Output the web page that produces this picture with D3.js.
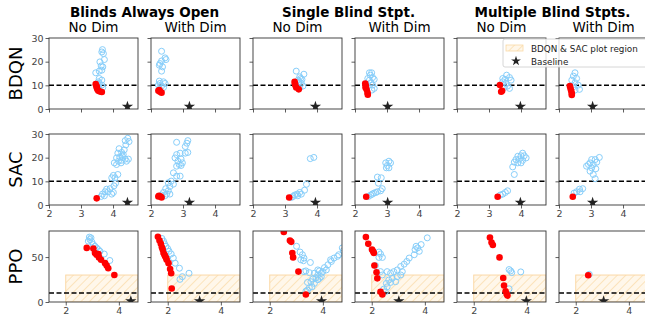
<!DOCTYPE html>
<html>
<head>
<meta charset="utf-8">
<script src="https://cdn.jsdelivr.net/npm/d3@7"></script>
<style>
body { margin: 0; background: #fff; }
svg { font-family: "DejaVu Sans", sans-serif; }
</style>
</head>
<body>
<svg id="chart" width="645" height="322"></svg>
<script>
// column / row labels
const groupTitles = ["Blinds Always Open", "Single Blind Stpt.", "Multiple Blind Stpts."];
const subTitles = ["No Dim", "With Dim", "No Dim", "With Dim", "No Dim", "With Dim"];
const rowLabels = ["BDQN", "SAC", "PPO"];

// baseline per column
const baselineX = [4.45, 3.2, 3.95, 3.02, 3.98, 3.05];
const baselineY = [1, 1, 1, 1, 1, 1];

// BDQN points, one list per column
const bdqnBlue = [
  [[3.67,25.1],[3.65,24.1],[3.70,23.4],[3.73,20.9],[3.59,19.9],[3.63,18.2],[3.68,17.8],[3.65,16.4],[3.57,16.0],[3.46,15.3],[3.57,12.9],[3.65,12.2],[3.54,11.5],[3.57,10.8],[3.49,10.5],[3.65,10.1],[3.55,9.4],[3.68,9.1],[3.57,8.3],[3.50,9.0]],
  [[2.33,24.4],[2.44,21.6],[2.47,20.9],[2.33,20.3],[2.26,18.5],[2.36,17.8],[2.28,19.2],[2.33,16.0],[2.26,11.8],[2.39,11.5],[2.28,10.8],[2.44,10.8],[2.33,9.7],[2.23,10.1],[2.39,9.1],[2.26,8.7]],
  [[3.35,16.0],[3.59,14.7],[3.46,13.6],[3.53,12.5],[3.41,12.2],[3.51,10.8],[3.56,9.7],[3.46,9.1],[3.43,11.5],[3.49,12.9]],
  [[2.45,15.3],[2.52,15.3],[2.48,14.3],[2.55,13.3],[2.60,12.5],[2.45,12.2],[2.50,11.1],[2.55,10.1],[2.60,8.7],[2.53,8.0],[2.40,12.9]],
  [[3.55,14.3],[3.64,13.3],[3.69,12.2],[3.50,12.5],[3.43,11.5],[3.53,10.8],[3.58,9.7],[3.48,9.1],[3.64,8.7],[3.43,12.9]],
  [[2.50,15.3],[2.45,13.9],[2.55,12.9],[2.40,12.2],[2.50,11.1],[2.60,10.1],[2.45,9.4],[2.64,8.3],[2.50,8.0]]
];
const bdqnRed = [
  [[3.46,10.5],[3.49,9.1],[3.51,8.3],[3.54,7.7],[3.59,7.4],[3.65,7.2],[3.49,9.6]],
  [[2.23,7.7],[2.28,7.3],[2.33,6.9],[2.26,8.0]],
  [[3.30,11.5],[3.32,10.1],[3.35,9.1],[3.43,8.3],[3.31,10.8]],
  [[2.32,10.8],[2.34,9.7],[2.36,8.3],[2.39,6.9],[2.40,6.0],[2.33,9.1]],
  [[3.34,10.1],[3.38,7.3],[3.41,7.7]],
  [[2.34,9.7],[2.36,8.7],[2.38,7.7],[2.40,6.6],[2.40,5.9]]
];

// SAC points
const sacBlue = [
  [[4.46,28.2],[4.38,27.2],[4.50,26.8],[4.40,25.4],[4.19,23.8],[4.35,23.3],[4.27,22.2],[4.15,21.9],[4.32,21.3],[4.21,20.3],[4.11,19.9],[4.38,19.4],[4.48,19.4],[4.27,18.9],[4.17,18.5],[4.04,17.8],[4.25,17.8],[4.11,17.1],[4.29,20.6],[4.42,18.5],[4.01,12.5],[4.15,12.9],[4.06,11.5],[3.96,11.5],[4.08,9.2],[4.03,8.1],[3.91,6.9],[3.80,6.7],[3.75,5.6],[3.85,5.6],[4.01,5.3],[3.67,4.6],[3.63,3.6],[3.73,3.9],[3.96,4.6]],
  [[3.15,27.2],[3.12,26.1],[2.80,26.5],[3.07,24.7],[3.15,22.2],[3.07,21.9],[2.91,21.9],[2.80,21.3],[2.75,19.9],[2.94,19.4],[2.84,18.5],[2.98,17.8],[2.88,17.1],[2.80,16.4],[2.94,16.7],[2.70,13.6],[2.80,12.2],[2.91,12.2],[2.63,10.1],[2.54,9.4],[2.70,8.8],[2.59,7.8],[2.46,6.9],[2.54,6.0],[2.39,5.3],[2.49,4.6],[2.59,4.6],[2.33,4.2],[2.44,3.9]],
  [[3.90,20.1],[3.79,19.6],[3.67,8.75],[3.61,6.25],[3.46,5.3],[3.38,4.6],[3.30,4.2],[3.25,3.6],[3.40,3.9],[3.51,4.6],[3.20,3.2]],
  [[3.06,18.5],[2.96,17.8],[3.11,17.8],[3.01,16.7],[3.06,15.7],[2.98,15.7],[2.70,11.8],[2.82,11.5],[2.73,9.2],[2.85,6.9],[2.80,6.0],[2.70,5.6],[2.59,5.0],[2.49,4.2],[2.42,3.6],[2.54,4.6],[2.65,5.3]],
  [[4.05,21.9],[4.00,20.8],[4.10,20.8],[3.90,20.6],[3.95,19.4],[4.16,19.9],[3.84,19.2],[4.05,18.9],[3.79,18.1],[3.90,17.8],[4.00,17.8],[3.74,16.1],[3.79,12.9],[3.58,6.0],[3.51,5.3],[3.43,4.6],[3.35,4.2]],
  [[3.26,20.1],[3.13,19.2],[3.02,19.2],[3.18,18.1],[2.97,17.8],[2.92,17.1],[3.07,17.1],[2.86,16.4],[3.02,15.7],[3.15,15.3],[2.97,14.3],[3.07,12.9],[3.13,11.1],[2.74,6.9],[2.64,6.7],[2.55,5.6],[2.47,5.0],[2.66,5.6]]
];
const sacRed = [
  [[3.49,2.8]],
  [[2.25,3.9],[2.30,3.6],[2.33,3.2],[2.23,3.6]],
  [[3.13,3.2]],
  [[2.35,3.5]],
  [[3.27,3.5]],
  [[2.43,3.5]]
];

// PPO points
const ppoBlue = [
  [[2.89,72.2],[2.91,69.5],[2.85,67.7],[2.98,66.9],[3.04,63.9],[3.10,62.0],[3.16,60.2],[3.23,58.3],[3.29,56.4],[3.45,53.4],[3.66,46.2],[2.95,71.4]],
  [[1.78,70.7],[1.84,67.7],[1.88,64.7],[1.93,62.0],[2.00,59.4],[2.05,56.4],[2.13,53.4],[2.21,48.9],[2.28,43.2],[2.44,37.6],[2.80,32.0],[2.55,28.2],[2.46,25.2]],
  [[3.01,62.0],[3.14,55.6],[3.23,52.6],[3.29,48.9],[3.17,47.0],[3.27,45.9],[3.53,44.0],[3.36,34.6],[3.49,32.7],[3.29,33.8],[3.68,32.0],[3.81,30.1],[3.94,32.0],[3.87,34.6],[4.00,33.8],[4.06,38.3],[4.19,41.4],[4.32,45.1],[4.29,47.0],[4.42,48.9],[4.55,50.8],[4.60,52.6],[4.77,57.1],[4.73,60.2],[3.74,27.1],[3.62,25.6],[3.55,22.6],[3.42,21.8],[3.68,20.7],[3.59,16.9],[3.42,13.2],[3.49,15.8],[3.36,12.0],[3.81,24.8],[3.94,28.2],[3.87,26.3],[4.13,35.7],[3.81,35.7]],
  [[2.27,55.6],[2.33,53.4],[2.40,49.6],[2.27,49.6],[2.14,40.6],[2.33,33.8],[2.40,30.1],[2.58,33.8],[2.71,32.0],[2.83,33.8],[2.96,35.7],[3.09,39.5],[3.22,42.1],[3.32,45.1],[3.41,48.9],[3.60,52.6],[3.63,58.3],[3.73,60.2],[3.86,63.9],[3.67,62.0],[4.09,71.4],[3.79,56.4],[2.77,26.3],[2.64,24.4],[2.71,21.8],[2.55,20.7],[2.58,16.9],[2.45,14.3],[2.51,11.3],[2.96,28.2],[3.09,30.1],[2.90,22.6],[3.15,33.8]],
  [[3.33,36.1],[3.39,34.6],[3.43,32.7],[3.77,33.5],[3.33,14.7]],
  [[2.51,30.8]]
];
const ppoRed = [
  [[2.79,60.2],[3.04,59.4],[3.10,54.5],[3.16,52.6],[3.25,49.6],[3.33,47.0],[3.48,43.2],[3.54,40.6],[3.60,37.6],[3.83,30.1],[3.23,53.4]],
  [[1.63,72.6],[1.69,68.4],[1.74,64.7],[1.78,60.9],[1.81,58.3],[1.84,54.5],[1.90,50.8],[1.96,47.0],[2.03,43.2],[2.09,36.8],[2.13,32.0],[2.15,15.0],[1.88,52.6],[1.94,48.9]],
  [[2.53,78.0],[2.76,68.4],[2.81,66.9],[2.85,54.5],[2.88,49.6],[3.08,33.8],[3.36,8.3]],
  [[1.78,72.2],[1.87,64.7],[2.01,58.3],[2.05,56.4],[2.08,54.5],[2.10,40.6],[2.18,33.1],[2.21,26.3],[2.33,11.3],[2.40,8.3]],
  [[2.61,71.8],[2.67,66.2],[2.72,63.5],[2.97,49.6],[3.11,26.7],[3.14,18.4],[3.20,12.0],[3.24,9.0],[3.27,7.1]],
  [[2.47,29.7]]
];

const rowBlue = [bdqnBlue, sacBlue, ppoBlue];
const rowRed = [bdqnRed, sacRed, ppoRed];
const rowXDomain = [[2, 4.78], [2, 4.78], [1.37, 4.72]];
const rowYDomain = [[0, 30], [0, 30], [0, 79]];
const rowXTicks = [[2, 3, 4], [2, 3, 4], [2, 4]];
const rowYTicks = [[0, 10, 20, 30], [0, 10, 20, 30], [0, 50]];
const thresholdY = 10;
const regionX = 2, regionY = 30;

const svg = d3.select("#chart");
const panelW = 89, panelH = 71;
const lefts = d3.range(6).map(i => 49 + i * 102);
const tops = [38, 134, 231];
const blue = "#87cefa", red = "#ff0000", spine = "#333", tickCol = "#444";

const defs = svg.append("defs");
const pat = defs.append("pattern")
  .attr("id", "hatch").attr("patternUnits", "userSpaceOnUse")
  .attr("width", 6).attr("height", 6).attr("patternTransform", "rotate(45)");
pat.append("rect").attr("width", 6).attr("height", 6).attr("fill", "#fff7ea");
pat.append("line").attr("x1", 0).attr("y1", 0).attr("x2", 0).attr("y2", 6)
  .attr("stroke", "#f8cf8f").attr("stroke-width", 1);

// titles
groupTitles.forEach((t, g) => {
  svg.append("text")
    .attr("x", (lefts[2 * g] + lefts[2 * g + 1] + panelW) / 2).attr("y", 17)
    .attr("text-anchor", "middle").attr("font-size", 13.5).attr("font-weight", "bold")
    .text(t);
});
subTitles.forEach((t, c) => {
  svg.append("text")
    .attr("x", lefts[c] + panelW / 2).attr("y", 32)
    .attr("text-anchor", "middle").attr("font-size", 13.5)
    .text(t);
});
rowLabels.forEach((t, r) => {
  svg.append("text")
    .attr("transform", `translate(22,${tops[r] + panelH / 2}) rotate(-90)`)
    .attr("text-anchor", "middle").attr("font-size", 18)
    .text(t);
});

for (let r = 0; r < 3; r++) {
  for (let c = 0; c < 6; c++) {
    const x = d3.scaleLinear().domain(rowXDomain[r]).range([0, panelW]);
    const y = d3.scaleLinear().domain(rowYDomain[r]).range([panelH, 0]);
    const g = svg.append("g").attr("transform", `translate(${lefts[c]},${tops[r]})`);
    const clipId = `clip-${r}-${c}`;
    defs.append("clipPath").attr("id", clipId)
      .append("rect").attr("width", panelW).attr("height", panelH);
    const plot = g.append("g").attr("clip-path", `url(#${clipId})`);

    if (r === 2) {
      plot.append("rect")
        .attr("x", x(regionX)).attr("y", y(regionY))
        .attr("width", panelW - x(regionX)).attr("height", panelH - y(regionY))
        .attr("fill", "url(#hatch)").attr("stroke", "#fbd9a6").attr("stroke-width", 1);
    }

    plot.append("line")
      .attr("x1", 0).attr("x2", panelW).attr("y1", y(thresholdY)).attr("y2", y(thresholdY))
      .attr("stroke", "#000").attr("stroke-width", 1.5).attr("stroke-dasharray", "5,2.5");

    plot.selectAll(".b").data(rowBlue[r][c]).enter().append("circle")
      .attr("cx", d => x(d[0])).attr("cy", d => y(d[1])).attr("r", 3)
      .attr("fill", "none").attr("stroke", blue).attr("stroke-width", 1);

    plot.selectAll(".rd").data(rowRed[r][c]).enter().append("circle")
      .attr("cx", d => x(d[0])).attr("cy", d => y(d[1])).attr("r", 3.3)
      .attr("fill", red);

    plot.append("path")
      .attr("d", d3.symbol(d3.symbolStar, 40)())
      .attr("transform", `translate(${x(baselineX[c])},${y(baselineY[c])})`)
      .attr("fill", "#222");

    g.append("rect").attr("width", panelW).attr("height", panelH)
      .attr("fill", "none").attr("stroke", spine).attr("stroke-width", 0.9);

    const xAxis = d3.axisBottom(x).tickValues(rowXTicks[r]).tickSize(3.5).tickPadding(2)
      .tickFormat(r === 0 ? () => "" : d3.format("d"));
    const yAxis = d3.axisLeft(y).tickValues(rowYTicks[r]).tickSize(3.5).tickPadding(2)
      .tickFormat(c === 0 ? d3.format("d") : () => "");
    [g.append("g").attr("transform", `translate(0,${panelH})`).call(xAxis),
     g.append("g").call(yAxis)].forEach(a => {
      a.select(".domain").remove();
      a.selectAll("line").attr("stroke", spine).attr("stroke-width", 0.8);
      a.selectAll("text").attr("fill", tickCol).attr("font-size", 9.5)
        .attr("font-family", "DejaVu Sans");
    });
  }
}

// legend
const lg = svg.append("g").attr("transform", "translate(503,39)");
lg.append("rect").attr("width", 150).attr("height", 28).attr("rx", 2)
  .attr("fill", "#fff").attr("fill-opacity", 0.8).attr("stroke", "#ccc").attr("stroke-width", 0.8);
lg.append("rect").attr("x", 3).attr("y", 6).attr("width", 17).attr("height", 6)
  .attr("fill", "url(#hatch)").attr("stroke", "#fbd9a6").attr("stroke-width", 0.8);
lg.append("text").attr("x", 28).attr("y", 12.5).attr("font-size", 8.8).attr("fill", "#222")
  .text("BDQN & SAC plot region");
lg.append("path").attr("d", d3.symbol(d3.symbolStar, 30)())
  .attr("transform", "translate(13,22)").attr("fill", "#222");
lg.append("text").attr("x", 28).attr("y", 25.5).attr("font-size", 8.8).attr("fill", "#222")
  .text("Baseline");
</script>
</body>
</html>
